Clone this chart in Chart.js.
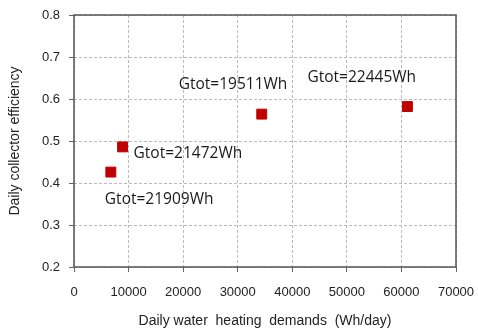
<!DOCTYPE html>
<html>
<head>
<meta charset="utf-8">
<script src="https://cdn.jsdelivr.net/npm/chart.js@4/dist/chart.umd.min.js"></script>
<style>
  html, body { margin: 0; padding: 0; background: #ffffff; }
  #wrap { width: 478px; height: 333px; position: relative; }
</style>
</head>
<body>
<div id="wrap"><canvas id="c" width="478" height="333"></canvas></div>
<script>
// Daily water heating demand (Wh/day) vs. daily collector efficiency
const demands = [6750, 8900, 34400, 61100];
const efficiency = [0.426, 0.486, 0.564, 0.582];
const gtotLabels = ['Gtot=21909Wh', 'Gtot=21472Wh', 'Gtot=19511Wh', 'Gtot=22445Wh'];
const xTicks = [0, 10000, 20000, 30000, 40000, 50000, 60000, 70000];
const yTicks = [0.2, 0.3, 0.4, 0.5, 0.6, 0.7, 0.8];

// label placement relative to each marker (pixels)
const labelOffsets = [[-6, 27], [11, 7], [-83, -30], [-100, -29]];

// solid frame around the plot area
const frame = {
  id: 'frame',
  beforeDatasetsDraw(chart) {
    const { ctx, chartArea: a } = chart;
    ctx.save();
    ctx.strokeStyle = '#555555';
    ctx.lineWidth = 1.5;
    ctx.setLineDash([]);
    ctx.strokeRect(a.left, a.top, a.right - a.left, a.bottom - a.top);
    ctx.restore();
  }
};

const annotations = {
  id: 'annotations',
  afterDatasetsDraw(chart) {
    const { ctx } = chart;
    const meta = chart.getDatasetMeta(0);
    ctx.save();
    ctx.font = '15.5px "Open Sans"';
    ctx.fillStyle = '#1a1a1a';
    ctx.textAlign = 'left';
    ctx.textBaseline = 'middle';
    meta.data.forEach((pt, i) => {
      const [dx, dy] = labelOffsets[i];
      ctx.fillText(gtotLabels[i], pt.x + dx, pt.y + dy);
    });
    ctx.restore();
  }
};

const gridOpts = {
  color: '#bbbbbb',
  tickLength: 5,
  tickColor: '#666666',
  tickBorderDash: []
};

new Chart(document.getElementById('c'), {
  type: 'scatter',
  data: {
    datasets: [{
      data: demands.map((d, i) => ({ x: d, y: efficiency[i] })),
      pointStyle: 'rect',
      pointRadius: 7,
      backgroundColor: '#c00000',
      borderColor: '#c00000',
      borderWidth: 1
    }]
  },
  options: {
    responsive: false,
    animation: false,
    layout: { padding: { left: 0, top: 15, right: 22, bottom: 0 } },
    plugins: { legend: { display: false }, tooltip: { enabled: false } },
    scales: {
      x: {
        type: 'linear',
        min: 0, max: 70000,
        afterBuildTicks(s) { s.ticks = xTicks.map(v => ({ value: v })); },
        afterFit(s) { s.height = 66; s.paddingLeft = 0; s.paddingRight = 0; },
        ticks: {
          font: { family: '"Liberation Sans"', size: 13 },
          color: '#222222',
          padding: 13,
          maxRotation: 0,
          callback: v => String(v)
        },
        grid: gridOpts,
        border: { display: false, dash: [3, 2] },
        title: {
          display: true,
          text: 'Daily water  heating  demands  (Wh/day)',
          font: { family: '"Liberation Sans"', size: 14 },
          color: '#222222',
          padding: { top: 6, bottom: 3 }
        }
      },
      y: {
        type: 'linear',
        min: 0.2, max: 0.8,
        afterBuildTicks(s) { s.ticks = yTicks.map(v => ({ value: v })); },
        afterFit(s) { s.width = 74; s.paddingTop = 0; s.paddingBottom = 0; },
        ticks: {
          font: { family: '"Liberation Sans"', size: 13 },
          color: '#222222',
          padding: 9,
          callback: v => v.toFixed(1)
        },
        grid: gridOpts,
        border: { display: false, dash: [3, 2] },
        title: {
          display: true,
          text: 'Daily collector efficiency',
          font: { family: '"Liberation Sans"', size: 14 },
          color: '#222222',
          padding: { top: 7, bottom: 0 }
        }
      }
    }
  },
  plugins: [frame, annotations]
});
</script>
</body>
</html>
